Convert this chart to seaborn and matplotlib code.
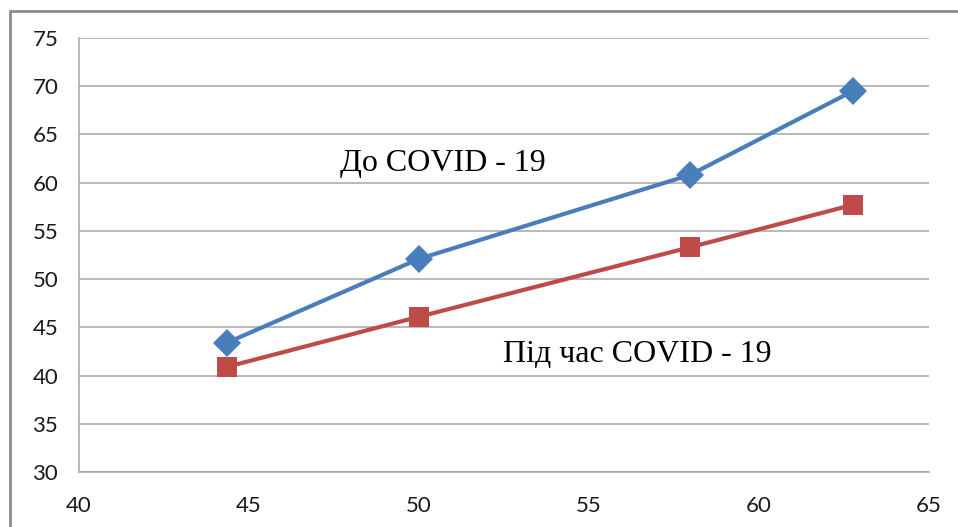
import matplotlib
matplotlib.use("Agg")
import matplotlib.pyplot as plt
import seaborn as sns
import pandas as pd
from matplotlib.patches import Rectangle

x_vals = [44.35, 50.0, 57.97, 62.76]
before_covid = [43.4, 52.1, 60.8, 69.5]
during_covid = [40.9, 46.1, 53.3, 57.7]
label_before = "До COVID - 19"
label_during = "Під час COVID - 19"
x_ticks = [40, 45, 50, 55, 60, 65]
y_ticks = [30, 35, 40, 45, 50, 55, 60, 65, 70, 75]

df = pd.DataFrame({
    "x": x_vals * 2,
    "y": before_covid + during_covid,
    "series": [label_before] * 4 + [label_during] * 4,
})

sns.set_theme(style="white")
plt.rcParams['font.family'] = ['Lato', 'DejaVu Sans']

fig = plt.figure(figsize=(9.58, 5.27), dpi=100)
ax = fig.add_axes([79/958, 1-472/527, (929-79)/958, (472-38)/527])

palette = {label_before: "#4a7ebb", label_during: "#be4b48"}
markers = {label_before: "D", label_during: "s"}
sns.lineplot(data=df, x="x", y="y", hue="series", style="series",
             palette=palette, markers=markers, dashes=False,
             linewidth=3.0, markersize=14.5, markeredgewidth=0,
             legend=False, ax=ax, zorder=3)

ax.set_xlim(40, 65)
ax.set_ylim(30, 75)
ax.set_xticks(x_ticks)
ax.set_yticks(y_ticks)
ax.set_xlabel("")
ax.set_ylabel("")
ax.grid(axis="y", color="#a6a6a6", linewidth=1.1)
ax.grid(axis="x", visible=False)
ax.set_axisbelow(True)
for s in ["top", "right"]:
    ax.spines[s].set_visible(False)
for s in ["left", "bottom"]:
    ax.spines[s].set_color("#a6a6a6")
    ax.spines[s].set_linewidth(1.1)
ax.tick_params(axis="both", which="major", length=7, width=1.1, color="#a6a6a6",
               labelsize=16, labelcolor="#1a1a1a", direction="out")
ax.tick_params(axis="y", pad=8)
ax.tick_params(axis="x", pad=10)

ax.text(47.68, 61.95, label_before, family=["Liberation Serif"], fontsize=23,
        ha="left", va="center", color="#000000")
ax.text(52.47, 42.2, label_during, family=["Liberation Serif"], fontsize=23,
        ha="left", va="center", color="#000000")

fig.patches.append(Rectangle((10/958, -0.1), 1.2, 1 - 11/527 + 0.1,
                             transform=fig.transFigure, fill=False,
                             edgecolor="#8c8c8c", linewidth=2, figure=fig))

fig.savefig("out.png", dpi=100)
